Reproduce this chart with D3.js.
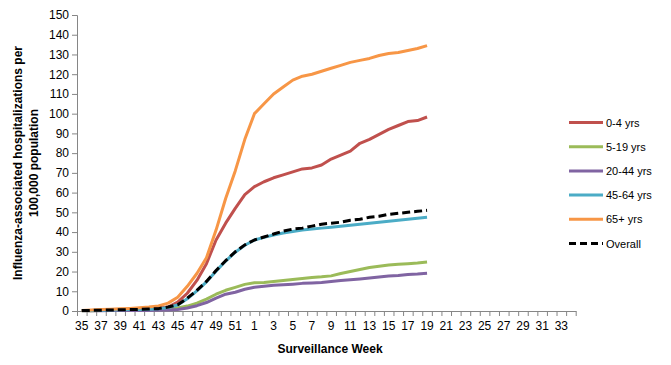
<!DOCTYPE html>
<html>
<head>
<meta charset="utf-8">
<script src="https://cdn.jsdelivr.net/npm/d3@7"></script>
<style>
  body { margin: 0; background: #fff; }
  text { font-family: "Liberation Sans", Arial, sans-serif; }
</style>
</head>
<body>
<div id="chart"></div>
<script>
// surveillance weeks 35..52 then 1..34
const weeks = d3.range(35, 53).concat(d3.range(1, 35));

// cumulative rates per 100,000, weeks 35 .. 19
const age0to4 = [0.2, 0.3, 0.4, 0.5, 0.6, 0.8, 1, 1.2, 1.5, 2, 4.5, 9, 15.5, 24, 36, 44.5, 52, 59,
  63, 65.5, 67.5, 69, 70.5, 72, 72.5, 74, 77, 79, 81, 85, 87, 89.5, 92, 94, 96, 96.5, 98.3];
const age5to19 = [0.1, 0.1, 0.2, 0.2, 0.3, 0.3, 0.4, 0.5, 0.6, 0.8, 1.5, 2.5, 4, 6, 8.5, 10.5, 12, 13.5,
  14.3, 14.5, 15, 15.5, 16, 16.5, 17, 17.3, 17.8, 19, 20, 21, 22, 22.7, 23.3, 23.7, 24, 24.3, 24.8];
const age20to44 = [0.1, 0.1, 0.1, 0.2, 0.2, 0.2, 0.3, 0.3, 0.4, 0.5, 0.8, 1.5, 2.7, 4.3, 6.5, 8.5, 9.5, 11,
  12, 12.5, 13, 13.3, 13.6, 14, 14.2, 14.5, 15, 15.5, 15.8, 16.2, 16.7, 17.2, 17.7, 18, 18.5, 18.7, 19.1];
const age45to64 = [0.2, 0.3, 0.4, 0.5, 0.6, 0.7, 0.8, 0.9, 1.1, 1.8, 3, 6.2, 10.2, 14.8, 20.2, 25.3, 29.8, 33.3,
  36, 37.3, 38.5, 39.5, 40.3, 41, 41.5, 42, 42.5, 43, 43.5, 44, 44.5, 45, 45.5, 46, 46.5, 47, 47.5];
const age65plus = [0.3, 0.5, 0.7, 0.9, 1.1, 1.3, 1.6, 2, 2.6, 4, 7, 12.5, 19, 27, 41, 57, 71, 87,
  100, 105, 110, 113.5, 117, 119, 120, 121.5, 123, 124.5, 126, 127, 128, 129.5, 130.5, 131, 132, 133, 134.5];
const overall = [0.2, 0.3, 0.4, 0.5, 0.6, 0.7, 0.8, 1, 1.2, 2, 3.2, 6.5, 10.5, 15, 20.5, 25.5, 30, 33.5,
  36, 37.5, 39, 40.5, 41.5, 42, 43, 44, 44.5, 45, 46, 46.5, 47.5, 48, 49, 49.5, 50, 50.5, 51];

const seriesNames = ["0-4 yrs", "5-19 yrs", "20-44 yrs", "45-64 yrs", "65+ yrs", "Overall"];
const seriesValues = [age0to4, age5to19, age20to44, age45to64, age65plus, overall];
const seriesColors = ["#C0504D", "#9BBB59", "#8064A2", "#4BACC6", "#F79646", "#000000"];

const yTicks = d3.range(0, 151, 10);

const W = 671, H = 365;
const plotLeft = 77, plotRight = 575.7, plotTop = 15, plotBottom = 311;

const svg = d3.select("#chart").append("svg")
  .attr("width", W).attr("height", H);

const x = d3.scaleBand()
  .domain(weeks)
  .range([plotLeft, plotRight])
  .padding(0);

const xb = d3.scaleLinear()
  .domain([0, weeks.length])
  .range([plotLeft, plotRight]);

const y = d3.scaleLinear()
  .domain([0, 150])
  .range([plotBottom, plotTop]);

const axisColor = "#868686";

// y axis
svg.append("g")
  .attr("transform", `translate(${plotLeft},0)`)
  .call(d3.axisLeft(y).tickValues(yTicks).tickSize(5).tickPadding(3))
  .call(g => g.select(".domain").attr("stroke", axisColor))
  .call(g => g.selectAll(".tick line").attr("stroke", axisColor))
  .call(g => g.selectAll(".tick text").attr("fill", "#000").style("font-size", "12px")
    .style("font-family", "Liberation Sans, Arial, sans-serif"));

// x axis: ticks at category boundaries
svg.append("g")
  .attr("transform", `translate(0,${plotBottom})`)
  .call(d3.axisBottom(xb).tickValues(d3.range(weeks.length + 1)).tickFormat("").tickSize(5).tickSizeOuter(0))
  .call(g => g.select(".domain").attr("stroke", axisColor))
  .call(g => g.selectAll(".tick line").attr("stroke", axisColor));

// x labels every other week
svg.append("g")
  .attr("transform", `translate(0,${plotBottom})`)
  .call(d3.axisBottom(x).tickSize(0).tickPadding(10)
    .tickFormat((d, i) => i % 2 === 0 ? d : ""))
  .call(g => g.select(".domain").remove())
  .call(g => g.selectAll(".tick text").attr("fill", "#000").style("font-size", "12px")
    .style("font-family", "Liberation Sans, Arial, sans-serif"));

// titles
svg.append("text")
  .attr("x", 330).attr("y", 353)
  .attr("text-anchor", "middle")
  .style("font-size", "12px").style("font-weight", "bold")
  .text("Surveillance Week");

const yTitle = svg.append("text")
  .attr("transform", `translate(22,163) rotate(-90)`)
  .attr("text-anchor", "middle")
  .style("font-size", "12px").style("font-weight", "bold");
yTitle.append("tspan").attr("x", 0).attr("y", 0).text("Influenza-associated hospitalizations per");
yTitle.append("tspan").attr("x", 0).attr("y", 16).text("100,000  population");

// lines
const line = d3.line()
  .x((d, i) => x(weeks[i]) + x.bandwidth() / 2)
  .y(d => y(d));

seriesValues.forEach((vals, k) => {
  svg.append("path")
    .datum(vals)
    .attr("fill", "none")
    .attr("stroke", seriesColors[k])
    .attr("stroke-width", 3)
    .attr("stroke-linejoin", "round")
    .attr("stroke-dasharray", seriesNames[k] === "Overall" ? "8,4" : null)
    .attr("d", line);
});

// legend
const legend = svg.append("g");
seriesNames.forEach((name, k) => {
  const ly = 122.5 + k * 24.2;
  legend.append("line")
    .attr("x1", 569).attr("x2", 603)
    .attr("y1", ly).attr("y2", ly)
    .attr("stroke", seriesColors[k])
    .attr("stroke-width", 3)
    .attr("stroke-dasharray", name === "Overall" ? "7,4" : null);
  legend.append("text")
    .attr("x", 606).attr("y", ly + 4)
    .style("font-size", "11px")
    .text(name);
});
</script>
</body>
</html>
